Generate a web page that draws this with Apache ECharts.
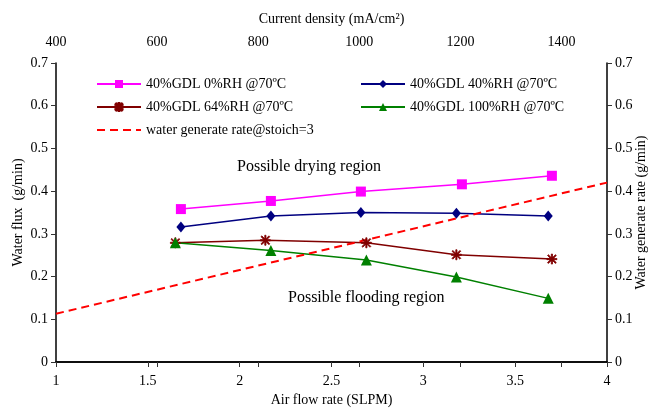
<!DOCTYPE html>
<html>
<head>
<meta charset="utf-8">
<script src="https://cdn.jsdelivr.net/npm/echarts@6/dist/echarts.min.js"></script>
<style>html,body{margin:0;padding:0;background:#fff}#c{width:654px;height:409px}</style>
</head>
<body>
<div id="c"></div>
<script>
var airFlow0 = [1.68, 2.17, 2.66, 3.21, 3.70];
var rh0 = [0.358, 0.377, 0.399, 0.416, 0.436];
var airFlow40 = [1.68, 2.17, 2.66, 3.18, 3.68];
var rh40 = [0.316, 0.342, 0.350, 0.348, 0.342];
var airFlow64 = [1.65, 2.14, 2.69, 3.18, 3.70];
var rh64 = [0.279, 0.285, 0.279, 0.251, 0.241];
var airFlow100 = [1.65, 2.17, 2.69, 3.18, 3.68];
var rh100 = [0.279, 0.261, 0.239, 0.199, 0.149];
var genX = [1, 4];
var genRate = [0.113, 0.420];
var names = ['40%GDL 0%RH @70ºC', '40%GDL 40%RH @70ºC', '40%GDL 64%RH @70ºC', '40%GDL 100%RH @70ºC', 'water generate rate@stoich=3'];

function pairs(xs, ys) { return xs.map(function (x, i) { return [x, ys[i]]; }); }

var font = 'Liberation Serif';
var asterisk = 'path://M4.4,0L5.6,0L5.6,10L4.4,10Z M0,4.4L10,4.4L10,5.6L0,5.6Z M0.6,1.45L1.45,0.6L9.4,8.55L8.55,9.4Z M8.55,0.6L9.4,1.45L1.45,9.4L0.6,8.55Z';

var chart = echarts.init(document.getElementById('c'));
function fmt(v) { return String(v); }
function ax(o, labelExtra) {
  var b = {
    nameMoveOverlap: false,
    axisLine: { show: true, lineStyle: { color: '#000', width: 1.5 } },
    axisTick: { show: true, length: 5, lineStyle: { color: '#333' } },
    splitLine: { show: false },
    axisLabel: Object.assign({ color: '#000', fontFamily: font, fontSize: 14, formatter: fmt }, labelExtra || {}),
    nameTextStyle: { color: '#000', fontFamily: font, fontSize: 14 }
  };
  return Object.assign(b, o);
}
var legendText = { fontFamily: font, fontSize: 14, color: '#000' };

chart.setOption({
  animation: false,
  backgroundColor: '#fff',
  grid: { left: 56, right: 47, top: 63, bottom: 47, outerBoundsMode: 'none', containLabel: false },
  legend: [
    { data: [names[0], names[2], { name: names[4], itemStyle: { opacity: 0 } }], orient: 'vertical', left: 96, top: 77, itemWidth: 44, itemHeight: 10, itemGap: 9,
      textStyle: legendText, padding: 0 },
    { data: [names[1], names[3]], orient: 'vertical', left: 360, top: 77, itemWidth: 44, itemHeight: 10, itemGap: 9,
      textStyle: legendText, padding: 0 }
  ],
  xAxis: [
    ax({ type: 'value', position: 'bottom', min: 1, max: 4, interval: 0.5, name: 'Air flow rate (SLPM)', nameLocation: 'middle', nameGap: 31 },
       { margin: 12 }),
    ax({ type: 'value', position: 'top', min: 400, max: 1490, interval: 200, name: 'Current density (mA/cm²)', nameLocation: 'middle', nameGap: 37,
      axisTick: { show: true, inside: true, length: 5, lineStyle: { color: '#333' } } },
      { showMaxLabel: false, margin: 14 })
  ],
  yAxis: [
    ax({ type: 'value', position: 'left', min: 0, max: 0.7, interval: 0.1, name: 'Water flux  (g/min)', nameLocation: 'middle', nameGap: 31 }),
    ax({ type: 'value', position: 'right', min: 0, max: 0.7, interval: 0.1, name: 'Water generate rate (g/min)', nameLocation: 'middle', nameGap: 27 })
  ],
  graphic: [
    { type: 'text', left: 237, top: 159, style: { text: 'Possible drying region', font: '16px "Liberation Serif"', fill: '#000' } },
    { type: 'text', left: 288, top: 290, style: { text: 'Possible flooding region', font: '16px "Liberation Serif"', fill: '#000' } }
  ],
  series: [
    { name: names[0], type: 'line', data: pairs(airFlow0, rh0), symbol: 'rect', symbolSize: 10,
      lineStyle: { color: '#FF00FF', width: 1.5 }, itemStyle: { color: '#FF00FF' } },
    { name: names[1], type: 'line', data: pairs(airFlow40, rh40), symbol: 'diamond', symbolSize: [9, 11],
      lineStyle: { color: '#000080', width: 1.5 }, itemStyle: { color: '#000080' } },
    { name: names[2], type: 'line', data: pairs(airFlow64, rh64), symbol: asterisk, symbolSize: 10,
      lineStyle: { color: '#800000', width: 1.5 }, itemStyle: { color: '#800000', borderColor: '#800000', borderWidth: 0.8 } },
    { name: names[3], type: 'line', data: pairs(airFlow100, rh100), symbol: 'triangle', symbolSize: 11,
      lineStyle: { color: '#008000', width: 1.5 }, itemStyle: { color: '#008000' } },
    { name: names[4], type: 'line', data: pairs(genX, genRate), symbol: 'none', yAxisIndex: 1,
      lineStyle: { color: '#FF0000', width: 2, type: [8, 5] }, itemStyle: { color: '#FF0000' } }
  ]
});
</script>
</body>
</html>
